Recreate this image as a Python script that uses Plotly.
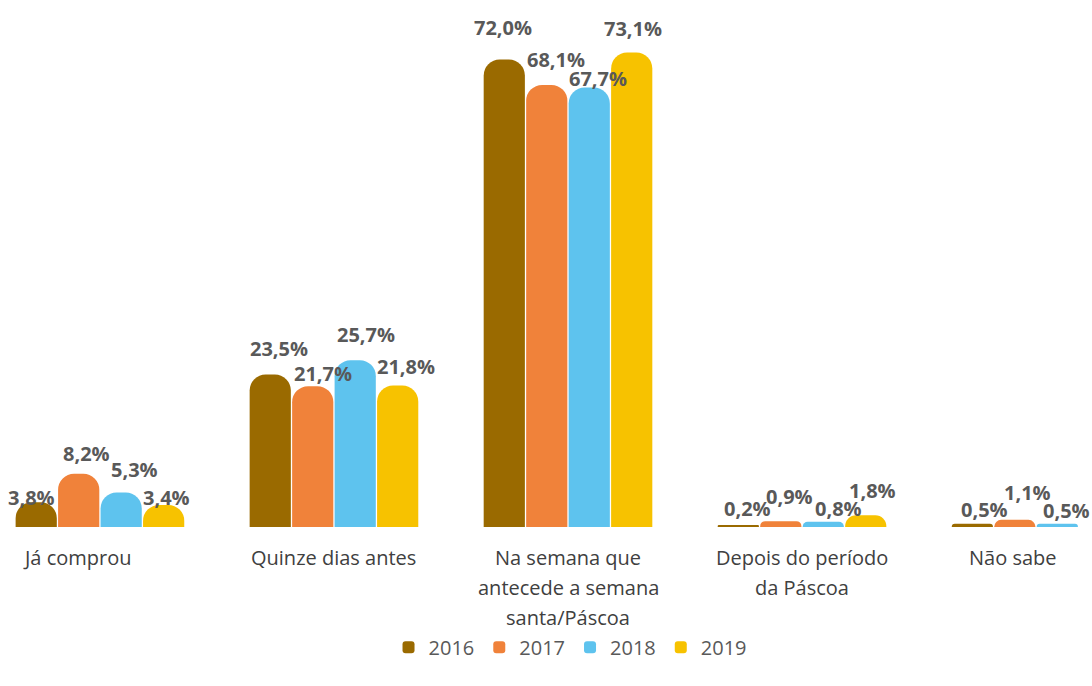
import plotly.graph_objects as go

categories = ["Já comprou", "Quinze dias antes", "Na semana que antecede a semana santa/Páscoa",
              "Depois do período da Páscoa", "Não sabe"]
category_lines = [["Já comprou"], ["Quinze dias antes"],
                  ["Na semana que", "antecede a semana", "santa/Páscoa"],
                  ["Depois do período", "da Páscoa"], ["Não sabe"]]
series_names = ["2016", "2017", "2018", "2019"]
v2016 = [3.8, 23.5, 72.0, 0.2, 0.5]
v2017 = [8.2, 21.7, 68.1, 0.9, 1.1]
v2018 = [5.3, 25.7, 67.7, 0.8, 0.5]
v2019 = [3.4, 21.8, 73.1, 1.8, None]
series_values = [v2016, v2017, v2018, v2019]
colors = ["#9A6A00", "#F0823A", "#5EC3EE", "#F7C200"]

# label placement offsets in pixels (dx, dy above bar top), per series x category
label_dx = [[-5, 9, -1, 9, 12], [8, 10, 9, 9, 13], [13, 11, 9, 15, 9], [3, 8, 1, 7, 0]]
label_dy = [[5, 26, 32, 17, 14], [20, 13, 25, 25, 27], [23, 26, 9, 13, 13], [7, 19, 24, 25, 0]]

BARGAP = 0.274
fig = go.Figure()
xs = list(range(len(categories)))
for j, (name, vals, col) in enumerate(zip(series_names, series_values, colors)):
    fig.add_trace(go.Bar(
        x=xs, y=vals, name=name,
        marker=dict(color=col, line=dict(width=0), cornerradius=16),
        hoverinfo="skip",
    ))
    off = (j - 1.5) * (1 - BARGAP) / 4
    for i, v in enumerate(vals):
        if v is None:
            continue
        fig.add_annotation(x=xs[i] + off, y=v, xref="x", yref="y",
                           text=f"{v:.1f}%".replace(".", ","), showarrow=False,
                           xanchor="center", yanchor="middle",
                           xshift=label_dx[j][i], yshift=label_dy[j][i],
                           font=dict(family="Open Sans", size=20, color="#595959", weight="bold"))

label_xshift = [-22, 0, 0, 0, -23]
for i, lines in enumerate(category_lines):
    for k, line in enumerate(lines):
        fig.add_annotation(x=xs[i], y=0, xref="x", yref="y", text=line, showarrow=False,
                           xanchor="center", yanchor="middle", xshift=label_xshift[i],
                           yshift=-30 - 30 * k,
                           font=dict(family="Open Sans", size=20, color="#404040"))

fig.update_layout(
    width=1092, height=686,
    margin=dict(l=0, r=0, t=20, b=159),
    paper_bgcolor="white", plot_bgcolor="white",
    barmode="group", bargap=BARGAP, bargroupgap=0.03,
    showlegend=True,
    legend=dict(orientation="h", x=0.522, xanchor="center", y=-0.237, yanchor="middle",
                font=dict(family="Open Sans", size=20, color="#595959"),
                itemwidth=30, tracegroupgap=0),
    xaxis=dict(range=[-0.427, 4.239], showticklabels=False, showgrid=False, zeroline=False,
               showline=False, ticks=""),
    yaxis=dict(range=[0, 78.1], visible=False, showgrid=False, zeroline=False),
)

fig.write_html("out.html")
